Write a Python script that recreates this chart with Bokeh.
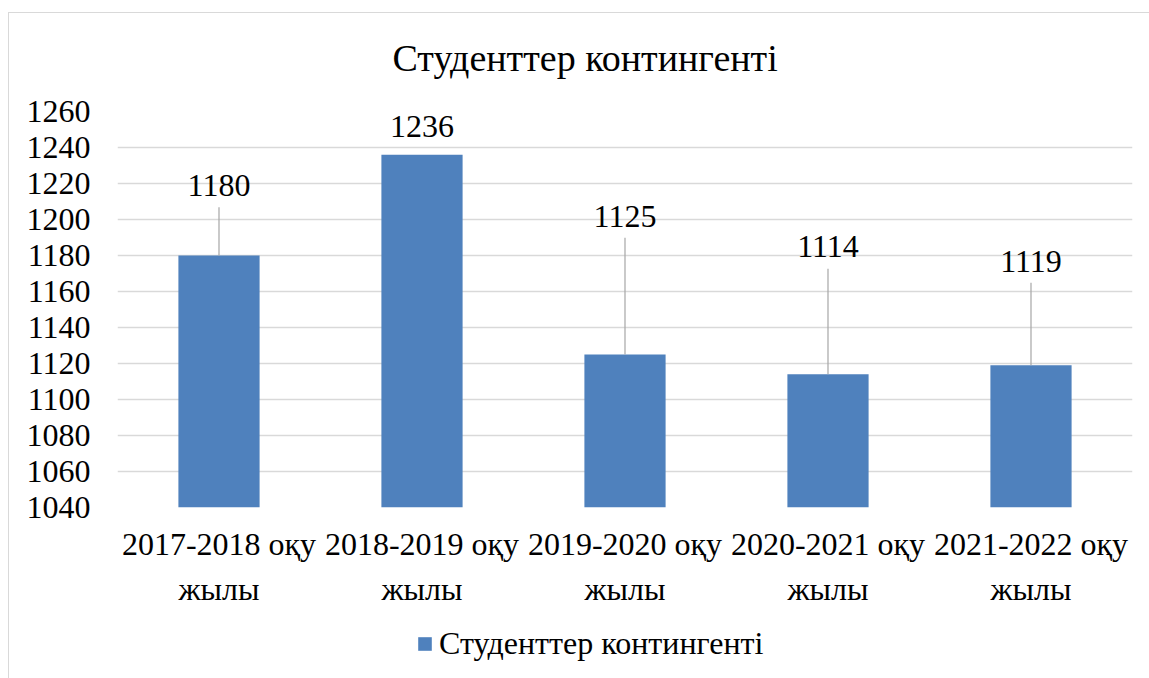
from bokeh.plotting import figure
from bokeh.models import (Legend, LegendItem, ColumnDataSource, FactorRange,
                          Range1d, FixedTicker)
from bokeh.layouts import column
from bokeh.embed import file_html
from bokeh.resources import INLINE
from bokeh.core.properties import value

# ---- data ----
title_text = "Студенттер контингенті"
series_name = "Студенттер контингенті"
categories = [
    "2017-2018 оқу\nжылы",
    "2018-2019 оқу\nжылы",
    "2019-2020 оқу\nжылы",
    "2020-2021 оқу\nжылы",
    "2021-2022 оқу\nжылы",
]
students = [1180, 1236, 1125, 1114, 1119]
y_ticks = [1040, 1060, 1080, 1100, 1120, 1140, 1160, 1180, 1200, 1220, 1240, 1260]

# data-label placement (data units) and leader-line tops
label_y = [1218.9, 1251.7, 1201.7, 1185.0, 1176.4]
leader_top = [1206.8, None, 1189.8, 1172.6, 1164.8]

FONT = "Liberation Serif"
BAR = "#4F81BD"

x_range = FactorRange(*categories)
p = figure(
    x_range=x_range,
    y_range=Range1d(1040, 1260),
    width=1149, height=620,
    output_backend="svg", toolbar_location=None,
    min_border_left=117, min_border_right=17,
    min_border_top=111, min_border_bottom=113,
)
p.outline_line_color = None
p.background_fill_color = "white"
p.border_fill_alpha = 0

src = ColumnDataSource(dict(x=categories, top=students,
                            label=[str(v) for v in students], ly=label_y))
bars = p.vbar(x="x", top="top", bottom=1040, width=0.4, source=src,
              fill_color=BAR, line_color=None)

lx = [c for c, t in zip(categories, leader_top) if t is not None]
ly0 = [v for v, t in zip(students, leader_top) if t is not None]
ly1 = [t for t in leader_top if t is not None]
p.segment(x0=lx, y0=ly0, x1=lx, y1=ly1, line_color="#a6a6a6", line_width=1.2)

p.text(x="x", y="ly", text="label", source=src, text_align="center",
       text_baseline="middle", text_font=value(FONT), text_font_size="32px",
       text_color="black")

# axes
p.yaxis.ticker = FixedTicker(ticks=y_ticks)
p.yaxis.axis_line_color = None
p.yaxis.major_tick_line_color = None
p.yaxis.minor_tick_line_color = None
p.yaxis.major_label_standoff = 21
p.yaxis.major_label_text_font = FONT
p.yaxis.major_label_text_font_size = "32px"
p.yaxis.major_label_text_color = "black"

p.xaxis.axis_line_color = None
p.xaxis.major_tick_line_color = None
p.xaxis.major_label_standoff = 12
p.xaxis.major_label_text_font = FONT
p.xaxis.major_label_text_font_size = "32px"
p.xaxis.major_label_text_color = "black"
p.xaxis.major_label_text_line_height = 1.25

p.xgrid.grid_line_color = None
p.ygrid.grid_line_color = "#d9d9d9"
p.ygrid.grid_line_width = 1.5

# title
p.title.text = title_text
p.title.text_font = FONT
p.title.text_font_size = "38px"
p.title.text_font_style = "normal"
p.title.text_color = "black"
p.title.align = "left"
p.title.offset = 275
p.title.standoff = 66

# legend strip below the chart (same series, kept outside this strip's y-range)
p2 = figure(x_range=x_range, y_range=Range1d(1300, 1400), width=1149, height=58,
            output_backend="svg", toolbar_location=None,
            min_border_left=0, min_border_right=0, min_border_top=0,
            min_border_bottom=0)
p2.axis.visible = False
p2.grid.visible = False
p2.outline_line_color = None
p2.background_fill_alpha = 0
p2.border_fill_alpha = 0
key = p2.vbar(x="x", top="top", bottom=1040, width=0.4, source=src,
              fill_color=BAR, line_color=None)

legend = Legend(items=[LegendItem(label=series_name, renderers=[key])],
                orientation="horizontal", location=(299, 16),
                label_text_font=FONT, label_text_font_size="32px",
                label_text_color="black",
                glyph_width=17, glyph_height=17, label_standoff=6,
                border_line_color=None, background_fill_alpha=0,
                padding=0, margin=0)
p2.add_layout(legend, "center")

layout = column(p, p2, spacing=0)
layout.styles = {"background": "linear-gradient(#d9d9d9,#d9d9d9) 8px 12px / 1px 100% no-repeat, "
                               "linear-gradient(#d9d9d9,#d9d9d9) 8px 12px / 100% 1px no-repeat, white"}

open("out.html", "w").write(file_html(layout, INLINE))
